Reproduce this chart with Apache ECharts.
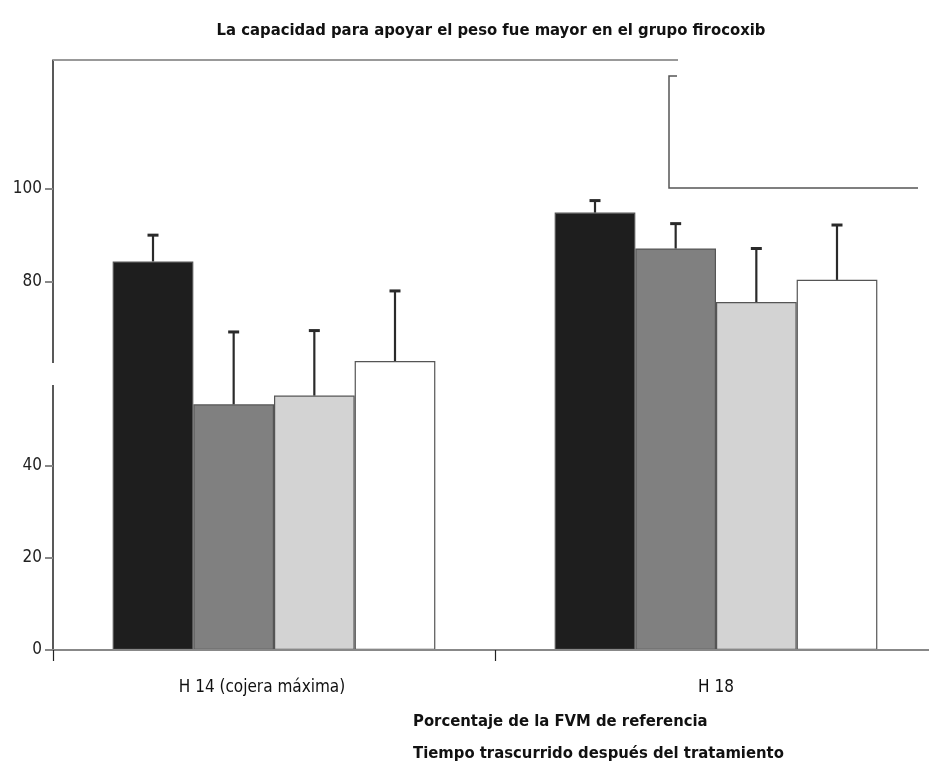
<!DOCTYPE html>
<html><head><meta charset="utf-8">
<script src="https://cdn.jsdelivr.net/npm/echarts@6/dist/echarts.min.js"></script>
<style>html,body{margin:0;padding:0;background:#fff}#c{width:929px;height:764px}</style>
</head><body><div id="c"></div>
<script>
var categories = ['H 14 (cojera máxima)', 'H 18'];
var seriesNames = ['Grupo 1', 'Grupo 2', 'Grupo 3', 'Grupo 4'];
var seriesValues = [
  [84.3, 94.9],
  [53.3, 87.1],
  [55.2, 75.5],
  [62.7, 80.3]
];
var errorTops = [
  [90.0, 97.5],
  [69.0, 92.5],
  [69.3, 87.1],
  [77.9, 92.2]
];
var yTickLabels = [0, 20, 40, 80, 100];

var FONT = '"Liberation Sans Narrow", "DejaVu Sans Condensed", "Liberation Sans", sans-serif';
var colors = ['#1e1e1e', '#808080', '#d3d3d3', '#ffffff'];
var CAT_GAP = 0.27;

var chart = echarts.init(document.getElementById('c'), null, {renderer: 'canvas'});

var series = [];
seriesNames.forEach(function (name, i) {
  series.push({
    name: name, type: 'bar', data: seriesValues[i],
    barGap: '0%', barCategoryGap: (CAT_GAP * 100) + '%',
    itemStyle: {color: colors[i], borderColor: '#555', borderWidth: 1.2},
    z: 2
  });
});
seriesNames.forEach(function (name, i) {
  series.push({
    type: 'custom', name: name + ' err',
    data: categories.map(function (c, k) { return [k, seriesValues[i][k], errorTops[i][k]]; }),
    encode: {x: 0, y: [1, 2]},
    z: 3,
    renderItem: function (params, api) {
      var k = api.value(0);
      var base = api.coord([k, api.value(1)]);
      var top = api.coord([k, api.value(2)]);
      var catW = api.size([1, 0])[0];
      var bw = catW * (1 - CAT_GAP) / 4;
      var x = base[0] + (i - 1.5) * bw;
      var cap = 5.5;
      return {type: 'group', children: [
        {type: 'line', shape: {x1: x, y1: base[1], x2: x, y2: top[1]}, style: {stroke: '#2a2a2a', lineWidth: 2.2}},
        {type: 'line', shape: {x1: x - cap, y1: top[1], x2: x + cap, y2: top[1]}, style: {stroke: '#2a2a2a', lineWidth: 3}}
      ]};
    }
  });
});

chart.setOption({
  animation: false,
  backgroundColor: '#fff',
  textStyle: {fontFamily: FONT},
  title: [
    {text: 'La capacidad para apoyar el peso fue mayor en el grupo firocoxib', left: 486, top: 17, textAlign: 'center',
      textStyle: {fontFamily: FONT, fontWeight: 'bold', fontSize: 16.5, color: '#111'}},
    {text: 'Porcentaje de la FVM de referencia', left: 408, top: 708,
      textStyle: {fontFamily: FONT, fontWeight: 'bold', fontSize: 16.5, color: '#111'}},
    {text: 'Tiempo trascurrido después del tratamiento', left: 408, top: 740,
      textStyle: {fontFamily: FONT, fontWeight: 'bold', fontSize: 16.5, color: '#111'}}
  ],
  grid: {left: 53, top: 60, width: 884, height: 590, containLabel: false, outerBoundsMode: 'none'},
  xAxis: {
    type: 'category',
    data: categories.map(function (c, k) {
      return k === 0 ? {value: c, textStyle: {padding: [0, 24, 0, 0]}} : c;
    }),
    axisLine: {lineStyle: {color: '#888', width: 2}},
    axisTick: {show: true, length: 11, lineStyle: {color: '#222', width: 1.2}},
    axisLabel: {margin: 29, fontSize: 17, color: '#111', fontFamily: FONT},
    z: 4
  },
  yAxis: {
    type: 'value', min: 0, max: 128, interval: 20,
    splitLine: {show: false},
    axisLine: {show: true, lineStyle: {color: '#222', width: 1.5}},
    axisTick: {show: true, length: 8, customValues: yTickLabels, lineStyle: {color: '#888', width: 2}},
    axisLabel: {customValues: yTickLabels, fontSize: 17, color: '#222', margin: 11, fontFamily: FONT, verticalAlign: 'middle'}
  },
  graphic: [
    {type: 'rect', shape: {x: 40, y: 363, width: 20, height: 22}, style: {fill: '#fff'}, z: 100},
    {type: 'line', shape: {x1: 53, y1: 60, x2: 678, y2: 60}, style: {stroke: '#999', lineWidth: 2}, z: 100},
    {type: 'polyline', shape: {points: [[677, 76], [669, 76], [669, 188], [918, 188]]}, style: {stroke: '#555', lineWidth: 1.5, fill: null}, z: 100}
  ],
  series: series
});
</script></body></html>
